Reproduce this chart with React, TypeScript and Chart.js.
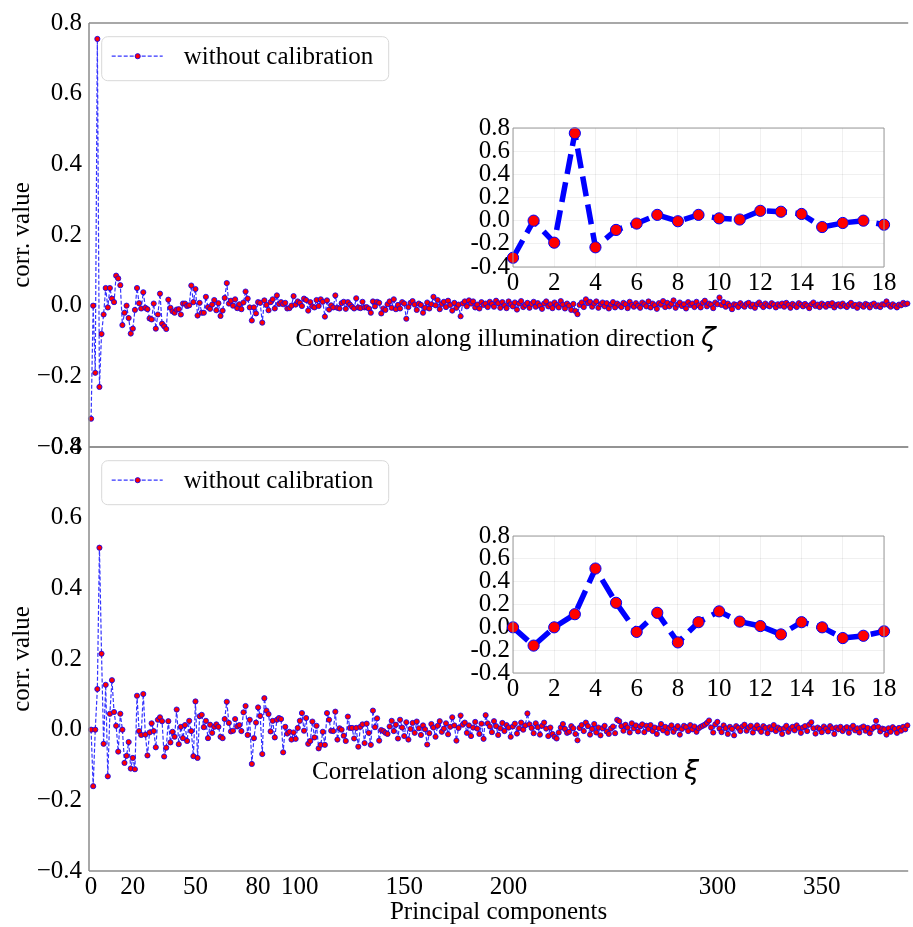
import React, { useEffect, useRef } from "react";
import { Chart, registerables } from "chart.js";

Chart.register(...registerables);

const FONT = "'Liberation Serif', 'Times New Roman', serif";
const SYMBOL_FONT = "italic 27px 'DejaVu Sans'";

const SERIES_LABEL = "without calibration";
const Y_TITLE = "corr. value";
const X_TITLE = "Principal components";
const TOP_CAPTION = "Correlation along illumination direction ";
const TOP_SYMBOL = "ζ";
const BOTTOM_CAPTION = "Correlation along scanning direction ";
const BOTTOM_SYMBOL = "ξ";

// correlation per principal component, illumination direction
const ILLUMINATION: number[] = [
  -0.32, 0.0, -0.19, 0.755, -0.23, -0.08, -0.025, 0.05, -0.005, 0.05,
  0.02, 0.01, 0.085, 0.077, 0.058, -0.055, -0.02, 0.0, -0.035, -0.079,
  -0.065, -0.012, 0.05, 0.007, -0.008, 0.038, -0.006, -0.01, -0.036, -0.039,
  0.006, -0.065, -0.025, 0.034, -0.051, -0.058, -0.066, 0.017, -0.006, -0.016,
  -0.02, -0.011, -0.01, -0.025, 0.006, 0.006, -0.001, 0.001, 0.057, 0.01,
  0.047, -0.028, 0.008, -0.02, -0.02, 0.025, -0.004, -0.009, 0.003, 0.016,
  -0.013, 0.007, -0.029, -0.014, 0.022, 0.064, 0.006, 0.014, 0.0, 0.018,
  -0.007, 0.004, -0.01, 0.009, 0.04, 0.02, -0.005, -0.042, -0.005, -0.022,
  0.01, 0.008, -0.048, 0.015, 0.002, -0.013, 0.01, 0.018, -0.008, 0.029,
  0.005, 0.01, 0.004, 0.008, -0.008, -0.007, 0.0, 0.027, 0.003, 0.012,
  0.008, -0.001, 0.02, 0.016, -0.014, 0.01, -0.002, -0.005, 0.016, -0.001,
  0.018, 0.011, -0.031, 0.015, -0.011, 0.001, -0.005, 0.029, -0.006, -0.008,
  0.007, 0.011, -0.009, 0.01, 0.003, -0.003, -0.008, 0.021, -0.005, -0.007,
  0.011, -0.005, -0.004, -0.008, -0.02, 0.012, -0.002, 0.011, 0.008, -0.022,
  -0.008, -0.012, 0.004, 0.012, -0.006, 0.018, -0.01, 0.002, -0.008, 0.01,
  0.006, -0.037, -0.004, 0.008, 0.013, 0.003, -0.012, 0.006, 0.002, -0.02,
  -0.006, 0.009, -0.008, 0.004, 0.025, 0.001, 0.016, -0.01, 0.005, 0.011,
  -0.004, 0.014, 0.002, -0.014, 0.008, -0.006, 0.003, -0.03, 0.006, 0.012,
  -0.002, 0.015, 0.006, 0.012, -0.005, 0.003, -0.008, 0.01, 0.002, 0.006,
  -0.004, 0.011, 0.005, -0.003, 0.014, 0.007, -0.006, 0.01, 0.001, -0.007,
  0.012, 0.004, -0.002, 0.009, -0.011, 0.006, 0.013, -0.004, 0.002, 0.008,
  -0.006, 0.005, 0.011, -0.003, 0.007, 0.0, -0.009, 0.006, 0.012, -0.002,
  0.004, -0.007, 0.009, 0.002, -0.005, 0.013, 0.003, -0.008, 0.006, 0.0,
  -0.012, 0.005, -0.015, -0.024, 0.002, 0.009, -0.004, 0.018, 0.007, 0.011,
  -0.003, 0.006, 0.012, -0.006, 0.004, 0.009, -0.002, 0.007, -0.008, 0.003,
  0.01, -0.005, 0.006, 0.001, -0.004, 0.008, 0.004, -0.007, 0.011, 0.002,
  -0.003, 0.007, 0.0, -0.006, 0.009, 0.004, -0.002, 0.012, -0.005, 0.006,
  0.001, -0.009, 0.007, 0.003, 0.013, -0.004, 0.008, -0.002, 0.005, 0.015,
  -0.006, 0.003, 0.009, -0.001, 0.004, -0.008, 0.01, 0.002, 0.006, -0.004,
  0.011, 0.001, -0.005, 0.008, 0.014, -0.002, 0.006, 0.003, -0.007, 0.009,
  0.004, 0.023, 0.002, 0.01, -0.003, 0.006, 0.0, -0.01, 0.004, 0.002,
  -0.004, 0.007, 0.001, -0.003, 0.005, 0.008, -0.002, 0.003, -0.006, 0.004,
  0.009, 0.002, -0.004, 0.006, 0.001, -0.002, 0.007, 0.003, -0.005, 0.004,
  0.0, 0.006, -0.003, 0.008, 0.002, -0.006, 0.005, 0.001, -0.004, 0.007,
  0.003, -0.002, 0.005, 0.0, -0.007, 0.004, 0.009, -0.001, 0.003, -0.004,
  0.006, 0.002, -0.003, 0.005, 0.001, 0.007, -0.005, 0.002, 0.004, -0.002,
  0.006, 0.0, -0.004, 0.003, 0.008, -0.001, 0.002, -0.006, 0.004, 0.001,
  -0.003, 0.005, 0.002, -0.005, 0.003, 0.006, -0.002, 0.001, -0.004, 0.004,
  0.003, 0.012, 0.002, -0.003, 0.004, 0.0, -0.005, 0.003, 0.001, 0.008,
  0.004, 0.006,
];

// correlation per principal component, scanning direction
const SCANNING: number[] = [
  0.0, -0.16, 0.0, 0.115, 0.515, 0.215, -0.04, 0.127, -0.132, 0.045,
  0.14, 0.05, 0.011, -0.062, 0.045, 0.0, -0.094, -0.074, -0.035, -0.11,
  -0.08, -0.112, 0.096, -0.004, -0.015, 0.101, -0.014, -0.073, -0.008, 0.018,
  -0.004, -0.05, 0.028, 0.035, 0.024, -0.076, -0.051, 0.024, -0.036, -0.006,
  -0.02, 0.057, -0.041, 0.008, -0.024, 0.013, -0.032, 0.025, -0.004, -0.075,
  0.08, -0.08, 0.038, 0.042, 0.007, 0.025, -0.024, 0.014, -0.009, 0.008,
  0.015, 0.008, -0.02, -0.024, 0.03, 0.079, 0.019, -0.005, -0.003, 0.03,
  0.009, 0.013, -0.004, 0.049, 0.067, -0.015, 0.028, -0.097, -0.024, 0.02,
  0.063, 0.039, -0.069, 0.089, 0.054, 0.044, -0.005, 0.025, -0.022, 0.028,
  0.033, 0.03, -0.064, 0.008, -0.011, -0.006, -0.028, -0.008, -0.026, 0.005,
  0.025, 0.047, -0.003, 0.033, -0.04, -0.032, 0.023, -0.022, 0.011, -0.053,
  -0.043, -0.006, -0.043, 0.047, 0.028, -0.003, -0.004, 0.051, -0.028, 0.004,
  0.0, -0.017, -0.032, 0.037, 0.005, 0.005, -0.025, 0.005, -0.048, 0.008,
  0.015, -0.038, 0.017, -0.009, -0.043, 0.054, 0.007, 0.032, -0.031, -0.001,
  -0.004, -0.009, -0.012, 0.009, 0.025, -0.004, 0.014, -0.025, 0.028, 0.006,
  -0.018, 0.021, -0.028, 0.002, 0.019, -0.009, 0.023, 0.004, -0.015, 0.012,
  0.001, -0.042, -0.01, 0.016, 0.006, -0.02, 0.011, 0.024, -0.006, 0.003,
  0.018, -0.013, 0.008, 0.035, 0.012, -0.031, 0.005, 0.04, 0.014, 0.02,
  -0.009, 0.012, -0.018, 0.006, 0.022, 0.003, -0.012, 0.017, -0.026, 0.041,
  0.018, 0.009, -0.007, 0.024, 0.01, -0.015, 0.004, 0.019, -0.004, 0.013,
  0.006, -0.02, 0.009, 0.017, -0.011, 0.004, 0.02, 0.0, 0.012, 0.046,
  0.015, 0.005, -0.01, 0.018, 0.007, -0.014, 0.011, 0.02, 0.003, -0.018,
  0.006, -0.012, -0.02, -0.025, -0.008, 0.006, 0.016, 0.002, -0.009, -0.006,
  0.01, 0.004, -0.012, -0.03, 0.005, 0.013, -0.004, 0.02, 0.01, -0.014,
  0.002, 0.016, -0.008, 0.006, -0.016, 0.004, 0.011, -0.005, -0.012, 0.003,
  0.009, -0.01, 0.028, 0.024, 0.01, -0.003, 0.014, 0.006, -0.008, 0.018,
  0.004, 0.012, -0.005, 0.009, 0.015, -0.007, 0.011, 0.002, 0.013, -0.004,
  0.006, -0.012, 0.004, 0.016, -0.002, 0.008, -0.009, 0.005, 0.012, -0.006,
  0.003, 0.01, -0.014, 0.002, 0.011, 0.007, -0.004, 0.013, 0.001, 0.009,
  -0.006, 0.004, 0.008, 0.011, 0.014, 0.019, 0.026, 0.006, -0.008, 0.015,
  0.022, 0.003, -0.007, 0.012, 0.004, -0.012, 0.008, 0.002, -0.016, 0.01,
  0.005, -0.004, 0.009, 0.014, -0.003, 0.006, 0.011, -0.008, 0.004, 0.012,
  0.002, -0.006, 0.01, 0.005, -0.01, 0.007, 0.001, 0.013, -0.004, 0.006,
  0.002, -0.012, 0.004, 0.011, -0.006, 0.003, 0.008, -0.002, 0.012, 0.005,
  -0.009, 0.006, 0.01, -0.004, 0.014, 0.021, 0.004, -0.011, 0.006, 0.002,
  -0.007, 0.009, 0.003, -0.005, 0.01, 0.004, -0.012, 0.006, 0.001, 0.008,
  -0.004, 0.003, 0.007, -0.009, 0.005, 0.011, -0.002, 0.004, -0.008, 0.006,
  0.009, -0.003, 0.005, -0.01, 0.002, 0.007, 0.025, 0.008, -0.005, 0.003,
  0.001, -0.014, 0.004, -0.006, 0.007, 0.002, -0.009, 0.005, -0.003, 0.008,
  0.001, 0.012,
];

const MAIN_X_TICKS = [0, 20, 50, 80, 100, 150, 200, 300, 350];
const MAIN_X_MIN = -1;
const MAIN_X_MAX = 391.4;
const Y_MIN = -0.4;
const Y_MAX = 0.8;
const Y_STEP = 0.2;
const INSET_POINTS = 19;
const INSET_X_STEP = 2;

Chart.defaults.font.family = FONT;
Chart.defaults.font.size = 25;
Chart.defaults.color = "#000";

const toPoints = (values: number[]) => values.map((y, x) => ({ x, y }));

const fmtMain = (v: number) => {
  const n = Math.round(v * 10) / 10;
  const s = Math.abs(n).toFixed(1);
  return n < 0 ? "\u2212" + s : s;
};
const fmtInset = (v: number) => {
  const n = Math.round(v * 10) / 10;
  const s = Math.abs(n).toFixed(1);
  return n < 0 ? "-" + s : s;
};

// axes frame and optional plot-area fill
const framePlugin = {
  id: "frame",
  beforeDraw(chart: any, _a: any, o: any) {
    if (!o.fill) return;
    const { ctx, chartArea: a } = chart;
    ctx.save();
    ctx.fillStyle = o.fill;
    ctx.fillRect(a.left, a.top, a.right - a.left, a.bottom - a.top);
    ctx.restore();
  },
  afterDatasetsDraw(chart: any, _a: any, o: any) {
    const { ctx, chartArea: a } = chart;
    ctx.save();
    ctx.strokeStyle = o.color || "#808080";
    ctx.lineWidth = o.width || 1;
    ctx.setLineDash([]);
    ctx.beginPath();
    const sides: string[] = o.sides || [];
    if (sides.includes("left")) { ctx.moveTo(a.left, a.top); ctx.lineTo(a.left, a.bottom); }
    if (sides.includes("right")) { ctx.moveTo(a.right, a.top); ctx.lineTo(a.right, a.bottom); }
    if (sides.includes("top")) { ctx.moveTo(a.left, a.top); ctx.lineTo(a.right, a.top); }
    if (sides.includes("bottom")) { ctx.moveTo(a.left, a.bottom); ctx.lineTo(a.right, a.bottom); }
    ctx.stroke();
    ctx.restore();
  },
};

// series key in the upper-left corner of a panel
const keyPlugin = {
  id: "seriesKey",
  afterDraw(chart: any, _a: any, o: any) {
    if (!o.display) return;
    const { ctx, chartArea: a } = chart;
    const ds = chart.data.datasets[0];
    const bx = a.left + 12.7, by = a.top + 13.7, bw = 287, bh = 44, r = 6;
    ctx.save();
    ctx.beginPath();
    ctx.moveTo(bx + r, by);
    ctx.arcTo(bx + bw, by, bx + bw, by + bh, r);
    ctx.arcTo(bx + bw, by + bh, bx, by + bh, r);
    ctx.arcTo(bx, by + bh, bx, by, r);
    ctx.arcTo(bx, by, bx + bw, by, r);
    ctx.closePath();
    ctx.fillStyle = "rgba(255,255,255,0.85)";
    ctx.fill();
    ctx.strokeStyle = "#d8d8d8";
    ctx.lineWidth = 1;
    ctx.stroke();

    const ly = by + 19.5;
    ctx.beginPath();
    ctx.setLineDash(ds.borderDash);
    ctx.strokeStyle = ds.borderColor;
    ctx.lineWidth = ds.borderWidth;
    ctx.moveTo(bx + 10, ly);
    ctx.lineTo(bx + 61, ly);
    ctx.stroke();
    ctx.setLineDash([]);
    ctx.beginPath();
    ctx.arc(bx + 36, ly, ds.pointRadius, 0, Math.PI * 2);
    ctx.fillStyle = ds.pointBackgroundColor;
    ctx.fill();
    ctx.strokeStyle = ds.pointBorderColor;
    ctx.lineWidth = ds.pointBorderWidth;
    ctx.stroke();

    ctx.fillStyle = "#000";
    ctx.font = `25px ${FONT}`;
    ctx.textAlign = "left";
    ctx.textBaseline = "middle";
    ctx.fillText(ds.label, bx + 82, ly + 1);
    ctx.restore();
  },
};

// caption text with a math symbol, placed in data units
const captionPlugin = {
  id: "caption",
  afterDatasetsDraw(chart: any, _a: any, o: any) {
    if (!o.text) return;
    const { ctx, chartArea: a, scales } = chart;
    const y = scales.y.getPixelForValue(o.value);
    ctx.save();
    ctx.font = `25px ${FONT}`;
    const w1 = ctx.measureText(o.text).width;
    ctx.font = SYMBOL_FONT;
    const w2 = ctx.measureText(o.symbol).width;
    const cx = a.left + (a.right - a.left) * o.xFrac;
    const x0 = cx - (w1 + w2) / 2;
    ctx.fillStyle = "#000";
    ctx.textAlign = "left";
    ctx.textBaseline = "middle";
    ctx.font = `25px ${FONT}`;
    ctx.fillText(o.text, x0, y);
    ctx.font = SYMBOL_FONT;
    ctx.fillText(o.symbol, x0 + w1, y);
    ctx.restore();
  },
};

function mainConfig(values: number[], opt: any): any {
  return {
    type: "line",
    data: {
      datasets: [
        {
          label: SERIES_LABEL,
          data: toPoints(values),
          borderColor: "rgba(0,0,255,0.8)",
          borderWidth: 1.2,
          borderDash: [4, 2],
          borderJoinStyle: "round",
          pointRadius: 2.6,
          pointBackgroundColor: "#ff0000",
          pointBorderColor: "#0000ff",
          pointBorderWidth: 0.8,
          fill: false,
          tension: 0,
          clip: false,
        },
      ],
    },
    options: {
      responsive: false,
      animation: false,
      events: [],
      layout: { padding: { top: 23, bottom: opt.showX ? 0 : 22, left: 0, right: 0 } },
      scales: {
        x: {
          type: "linear",
          min: MAIN_X_MIN,
          max: MAIN_X_MAX,
          display: opt.showX,
          grid: { display: false, drawTicks: false },
          border: { display: false },
          ticks: { autoSkip: false, padding: 1, font: { size: 25 }, color: "#000", callback: (v: number) => String(v) },
          afterBuildTicks: (s: any) => { s.ticks = MAIN_X_TICKS.map((value) => ({ value })); },
          afterFit: (s: any) => { s.height = opt.showX ? 56 : 0; },
          title: { display: true, text: X_TITLE, font: { size: 25 }, color: "#000", padding: { top: 0, bottom: 0 } },
        },
        y: {
          min: Y_MIN,
          max: Y_MAX,
          grid: { display: false, drawTicks: false },
          border: { display: false },
          ticks: { stepSize: Y_STEP, autoSkip: false, padding: 7, font: { size: 25 }, color: "#000", callback: (v: number) => fmtMain(v) },
          afterFit: (s: any) => { s.width = 89; },
          title: { display: true, text: Y_TITLE, font: { size: 25 }, color: "#000", padding: { top: 7, bottom: 0 } },
        },
      },
      plugins: {
        legend: { display: false },
        tooltip: { enabled: false },
        frame: { sides: ["left", "top", "bottom"], color: "#8c8c8c", width: 1.5 },
        seriesKey: { display: true },
        caption: { text: opt.caption, symbol: opt.symbol, value: opt.captionValue, xFrac: 0.5085 },
      },
    },
    plugins: [framePlugin, keyPlugin, captionPlugin],
  };
}

function insetConfig(values: number[]): any {
  return {
    type: "line",
    data: {
      datasets: [
        {
          label: SERIES_LABEL,
          data: toPoints(values.slice(0, INSET_POINTS)),
          borderColor: "#0000ff",
          borderWidth: 5.5,
          borderDash: [20, 8.5],
          borderJoinStyle: "round",
          pointRadius: 5.6,
          pointBackgroundColor: "#ff0000",
          pointBorderColor: "#0000ff",
          pointBorderWidth: 1,
          fill: false,
          tension: 0,
          clip: false,
        },
      ],
    },
    options: {
      responsive: false,
      animation: false,
      events: [],
      layout: { padding: { top: 17, right: 29, left: 0, bottom: 0 } },
      scales: {
        x: {
          type: "linear",
          min: 0,
          max: INSET_POINTS - 1,
          grid: { color: "rgba(0,0,0,0.06)", drawTicks: false },
          border: { display: false },
          ticks: { stepSize: INSET_X_STEP, padding: 1, font: { size: 25 }, color: "#000", autoSkip: false, maxRotation: 0 },
          afterFit: (s: any) => { s.height = 43; },
        },
        y: {
          min: Y_MIN,
          max: Y_MAX,
          grid: { color: "rgba(0,0,0,0.06)", drawTicks: false },
          border: { display: false },
          ticks: { stepSize: Y_STEP, autoSkip: false, padding: 3, font: { size: 25 }, color: "#000", callback: (v: number) => fmtInset(v) },
          afterFit: (s: any) => { s.width = 73; },
        },
      },
      plugins: {
        legend: { display: false },
        tooltip: { enabled: false },
        frame: { sides: ["left", "right", "top", "bottom"], color: "#9a9a9a", width: 1, fill: "#ffffff" },
        seriesKey: { display: false },
        caption: { text: "" },
      },
    },
    plugins: [framePlugin, keyPlugin, captionPlugin],
  };
}

export default function App() {
  const topRef = useRef<HTMLCanvasElement>(null);
  const bottomRef = useRef<HTMLCanvasElement>(null);
  const topInsetRef = useRef<HTMLCanvasElement>(null);
  const bottomInsetRef = useRef<HTMLCanvasElement>(null);

  useEffect(() => {
    const charts = [
      new Chart(topRef.current!, mainConfig(ILLUMINATION, { showX: false, caption: TOP_CAPTION, symbol: TOP_SYMBOL, captionValue: -0.095 })),
      new Chart(bottomRef.current!, mainConfig(SCANNING, { showX: true, caption: BOTTOM_CAPTION, symbol: BOTTOM_SYMBOL, captionValue: -0.12 })),
      new Chart(topInsetRef.current!, insetConfig(ILLUMINATION)),
      new Chart(bottomInsetRef.current!, insetConfig(SCANNING)),
    ];
    return () => charts.forEach((c) => c.destroy());
  }, []);

  const abs = (left: number, top: number): React.CSSProperties => ({ position: "absolute", left, top });

  return (
    <div style={{ position: "fixed", left: 0, top: 0, width: 913, height: 927, background: "#fff", overflow: "hidden" }}>
      <canvas ref={topRef} width={913} height={469} style={abs(0, 0)} />
      <canvas ref={bottomRef} width={913} height={503} style={abs(0, 424)} />
      <canvas ref={topInsetRef} width={473} height={200} style={abs(440, 110)} />
      <canvas ref={bottomInsetRef} width={473} height={198} style={abs(440, 518)} />
    </div>
  );
}
